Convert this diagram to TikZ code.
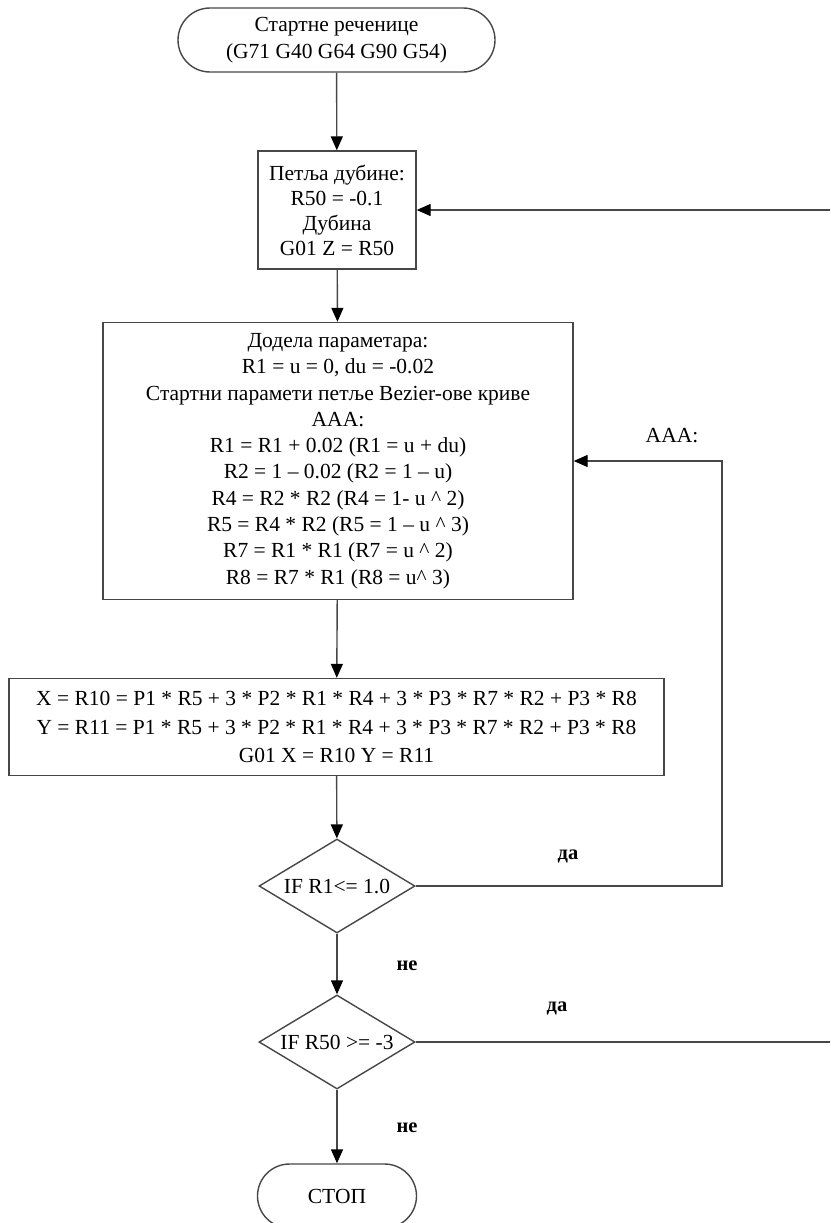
\documentclass[tikz,border=0pt]{standalone}
\usepackage{fontspec}
\setmainfont{Liberation Serif}
\usetikzlibrary{shapes.geometric,shapes.misc,arrows.meta}
\begin{document}
\begin{tikzpicture}[x=1pt,y=-1pt,
 line/.style={draw=black!72, line width=1.4pt},
 arr/.style={line, -{Triangle[length=14pt,width=12pt,fill=black,color=black]}},
 txt/.style={font=\fontsize{21.5}{#1}\selectfont, text=black},
 txt/.default=26,
 terminal/.style={rounded rectangle, draw=black!72, line width=1.4pt, inner sep=0pt, align=center, minimum height=64pt},
 procbox/.style={rectangle, draw=black!72, line width=1.4pt, inner sep=0pt, align=center},
 decision/.style={diamond, draw=black!72, line width=1.4pt, inner sep=0pt, aspect=1.66, minimum width=156pt, minimum height=94pt, txt},
 lbl/.style={font=\bfseries\fontsize{20.5}{22}\selectfont, text=black}
]
\useasboundingbox (0,0) rectangle (830,1223);
\clip (0,0) rectangle (830,1223);
\fill[white] (0,0) rectangle (830,1223);

\node[terminal, minimum width=317pt, txt=27] (start) at (336.5,40) {Стартне реченице\\(G71 G40 G64 G90 G54)};
\node[procbox, minimum width=158pt, minimum height=118pt, txt=25] (b2) at (337,210) {Петља дубине:\\R50 = -0.1\\Дубина\\G01 Z = R50};
\node[procbox, minimum width=470pt, minimum height=277pt, txt=26.3] (b3) at (338,461) {Додела параметара:\\R1 = u = 0, du = -0.02\\Стартни парамети петље Bezier-ове криве\\AAA:\\R1 = R1 + 0.02 (R1 = u + du)\\R2 = 1 – 0.02 (R2 = 1 – u)\\R4 = R2 * R2 (R4 = 1- u \^{} 2)\\R5 = R4 * R2 (R5 = 1 – u \^{} 3)\\R7 = R1 * R1 (R7 = u \^{} 2)\\R8 = R7 * R1 (R8 = u\^{} 3)};
\node[procbox, minimum width=655pt, minimum height=97pt, txt=28.5] (b4) at (336.5,727) {X = R10 = P1 * R5 + 3 * P2 * R1 * R4 + 3 * P3 * R7 * R2 + P3 * R8\\Y = R11 = P1 * R5 + 3 * P2 * R1 * R4 + 3 * P3 * R7 * R2 + P3 * R8\\G01 X = R10 Y = R11};
\node[decision] (d1) at (337,886) {IF R1<= 1.0};
\node[decision] (d2) at (337,1042) {IF R50 >= -3};
\node[terminal, minimum width=159pt, txt] (stop) at (337,1196) {СТОП};

\coordinate (c1) at (722,886);
\coordinate (c2) at (722,461);
\coordinate (c3) at (840,1042);
\coordinate (c4) at (840,210);

\draw[arr] (start) -- (b2);
\draw[arr] (b2) -- (b3);
\draw[arr] (b3) -- (b4);
\draw[arr] (b4) -- (d1);
\draw[arr] (d1) -- (d2);
\draw[arr] (d2) -- (stop);
\draw[arr] (d1.east) -- (c1) -- (c2) -- (b3.east);
\draw[arr] (d2.east) -- (c3) -- (c4) -- (b2.east);

\node[txt] (aaa) at (672,436) {AAA:};
\node[lbl] (yes1) at (568,856) {да};
\node[lbl] (no1) at (407,966) {не};
\node[lbl] (yes2) at (557,1008) {да};
\node[lbl] (no2) at (407,1128) {не};
\end{tikzpicture}
\end{document}
